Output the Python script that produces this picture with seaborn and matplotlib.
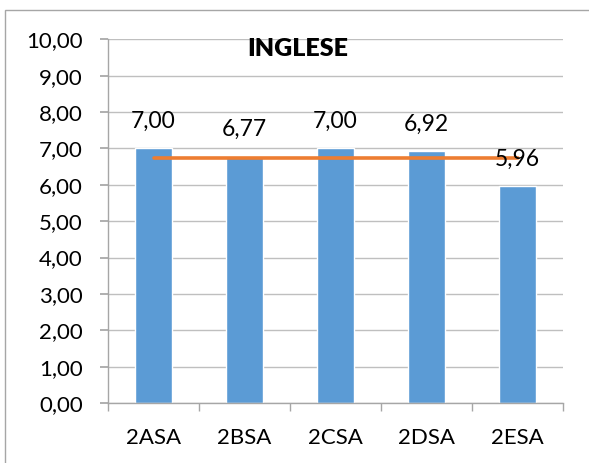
import matplotlib
matplotlib.use("Agg")
import matplotlib.pyplot as plt
import matplotlib.patches as mpatches
import matplotlib.transforms as mtrans
from matplotlib.ticker import FixedLocator, FuncFormatter
import seaborn as sns
import pandas as pd

classes = ["2ASA", "2BSA", "2CSA", "2DSA", "2ESA"]
voti = [7.00, 6.77, 7.00, 6.92, 5.96]
media = [6.73, 6.73, 6.73, 6.73, 6.73]
yticks = [0, 1, 2, 3, 4, 5, 6, 7, 8, 9, 10]
title = "INGLESE"

sns.set_theme(style="white")
plt.rcParams["font.family"] = ["Lato", "DejaVu Sans"]

df = pd.DataFrame({"classe": classes, "voto": voti, "media": media})

fig = plt.figure(figsize=(5.89, 4.63), dpi=100)
ax = fig.add_axes([108/589, 1-403/463, (563-108)/589, (403-39.3)/463])

sns.barplot(data=df, x="classe", y="voto", color="#5B9BD5", saturation=1,
            width=0.4, ax=ax, zorder=2)
sns.pointplot(data=df, x="classe", y="media", color="#ED7D31", markers="",
              linestyles="-", ax=ax, zorder=3)
for l in ax.lines:
    l.set_linewidth(2.6)

ax.bar_label(ax.containers[0], labels=[f"{v:.2f}".replace(".", ",") for v in voti],
             padding=12, fontsize=16.5, color="black")

ax.set_ylim(0, 10)
ax.set_xlim(-0.5, 4.5)
ax.yaxis.set_major_locator(FixedLocator(yticks))
ax.yaxis.set_major_formatter(FuncFormatter(lambda v, p: f"{v:.2f}".replace(".", ",")))
ax.grid(axis="y", color="#BFBFBF", lw=1, zorder=0)
ax.set_axisbelow(True)
ax.set_xlabel("")
ax.set_ylabel("")

for s in ["top", "right"]:
    ax.spines[s].set_visible(False)
for s in ["left", "bottom"]:
    ax.spines[s].set_color("#A6A6A6")
    ax.spines[s].set_linewidth(1)

ax.tick_params(axis="y", which="major", left=True, length=6, color="#A6A6A6",
               labelsize=16, pad=12, labelcolor="black")
ax.tick_params(axis="x", which="major", bottom=False, length=0, labelsize=16,
               pad=18, labelcolor="black")
ax.set_xticks([-0.5, 0.5, 1.5, 2.5, 3.5, 4.5], minor=True)
ax.tick_params(axis="x", which="minor", bottom=True, length=6, color="#A6A6A6", width=1)

ax.text(0.418, 9.72, title,
        transform=mtrans.blended_transform_factory(ax.transAxes, ax.transData),
        ha="center", va="center", fontsize=18, fontweight="heavy", color="black")

fig.patches.append(mpatches.Rectangle((5/589, -0.1), 2, 1-10/463+0.1, transform=fig.transFigure,
                                      fill=False, edgecolor="#A6A6A6", lw=1))

fig.savefig("out.png", dpi=100)
